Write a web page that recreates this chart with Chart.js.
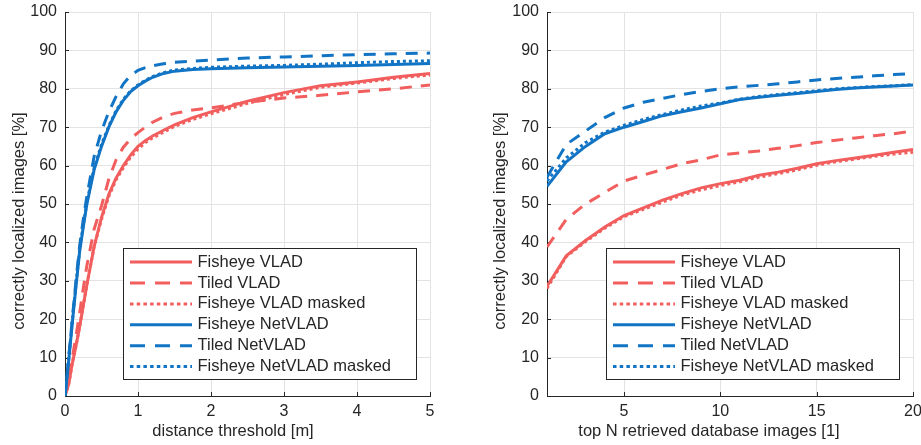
<!DOCTYPE html>
<html>
<head>
<meta charset="utf-8">
<script src="https://cdn.jsdelivr.net/npm/chart.js@4.4.1/dist/chart.umd.min.js"></script>
<style>
  html, body { margin: 0; padding: 0; background: #fff; }
  #wrap { position: relative; width: 921px; height: 445px; }
  canvas { position: absolute; top: 0; }
  #left { left: 0; }
  #right { left: 460px; }
</style>
</head>
<body>
<div id="wrap">
  <canvas id="left" width="460" height="445"></canvas>
  <canvas id="right" width="461" height="445"></canvas>
</div>
<script>
// ---- data ----
const seriesNames = ['Fisheye VLAD', 'Tiled VLAD', 'Fisheye VLAD masked',
                     'Fisheye NetVLAD', 'Tiled NetVLAD', 'Fisheye NetVLAD masked'];

// left plot: distance threshold [m]
const distX = [0, 0.05, 0.1, 0.15, 0.2, 0.25, 0.3, 0.4, 0.5, 0.6, 0.7, 0.8, 0.9, 1.0,
               1.1, 1.2, 1.35, 1.5, 1.75, 2.0, 2.5, 3.0, 3.5, 4.0, 4.5, 5.0];
const distFisheyeVlad = [0, 3, 8.5, 13, 18, 23.5, 29, 39, 46.5, 52.5, 56.8, 60, 62.8, 65,
                         66.5, 67.7, 69.2, 70.6, 72.5, 74, 76.8, 79, 80.8, 81.8, 83, 84];
const distTiledVlad = [0, 4, 10, 15.5, 21.5, 28, 34, 43.5, 49.5, 56.5, 61.5, 64.8, 67, 68.6,
                       70, 71.3, 72.7, 73.6, 74.5, 75, 76.5, 77.6, 78.3, 79.2, 80, 81];
const distFisheyeVladMasked = [0, 3, 8.5, 13, 18, 23.5, 29, 39, 46, 52, 56.3, 59.5, 62.2, 64.3,
                               66, 67.2, 68.7, 70.2, 72, 73.5, 76.2, 78.5, 80.4, 81.5, 82.7, 83.6];
const distFisheyeNetVlad = [0, 9, 19, 28.5, 37.5, 44, 50, 59, 65, 70, 74, 77, 79.3, 80.8,
                            82, 83, 84, 84.6, 85, 85.2, 85.5, 85.7, 85.9, 86.1, 86.3, 86.6];
const distTiledNetVlad = [0, 10, 20, 30, 39, 46, 52, 62.5, 69, 74, 78, 81.3, 83.5, 84.8,
                          85.5, 86, 86.5, 86.9, 87.2, 87.5, 88, 88.3, 88.6, 88.9, 89.1, 89.3];
const distFisheyeNetVladMasked = [0, 9.5, 19.5, 29, 38, 44.5, 50.5, 59.5, 65.5, 70.3, 74.3, 77.3, 79.5, 81,
                                  82.2, 83.2, 84.2, 84.9, 85.3, 85.6, 85.9, 86.1, 86.4, 86.8, 87.1, 87.3];
const distTicks = [0, 1, 2, 3, 4, 5];

// right plot: top N retrieved database images
const topN = [1, 2, 3, 4, 5, 6, 7, 8, 9, 10, 11, 12, 13, 14, 15, 16, 17, 18, 19, 20];
const topFisheyeVlad = [28.6, 36.5, 40.5, 44, 47, 49, 51, 52.7, 54.2, 55.3,
                        56.2, 57.5, 58.3, 59.3, 60.5, 61.3, 62, 62.7, 63.5, 64.2];
const topTiledVlad = [38.8, 46, 50, 53, 56, 57.5, 59, 60.5, 61.5, 62.8,
                      63.3, 63.8, 64.5, 65.2, 66, 66.6, 67.2, 67.8, 68.3, 69];
const topFisheyeVladMasked = [28, 36.3, 40.2, 43.7, 46.7, 48.6, 50.5, 52.3, 53.7, 54.8,
                              55.8, 57, 57.9, 58.9, 60.1, 61, 61.7, 62.4, 63, 63.5];
const topFisheyeNetVlad = [54.6, 61, 65, 68.3, 70, 71.5, 73, 74, 75, 76.1,
                           77.2, 77.8, 78.3, 78.8, 79.3, 79.8, 80.2, 80.5, 80.7, 81];
const topTiledNetVlad = [57, 65.5, 69, 72.5, 75, 76.5, 77.5, 78.5, 79.3, 80,
                         80.5, 80.9, 81.3, 81.8, 82.3, 82.7, 83, 83.4, 83.7, 84];
const topFisheyeNetVladMasked = [56, 62, 66, 68.7, 70.5, 72, 73.3, 74.5, 75.5, 76.3,
                                 77.3, 78, 78.5, 79, 79.5, 80, 80.3, 80.6, 80.8, 81.1];
const topTicks = [5, 10, 15, 20];

const yTicks = [0, 10, 20, 30, 40, 50, 60, 70, 80, 90, 100];

// ---- styling ----
const red = 'rgb(242,94,94)';
const blue = 'rgb(18,116,196)';
const textColor = '#262626';
const gridColor = '#e3e3e3';
const fontFamily = '"Liberation Sans", Arial, Helvetica, sans-serif';
const colors = [red, red, red, blue, blue, blue];
const styles = ['solid', 'dashed', 'dotted', 'solid', 'dashed', 'dotted'];
const dashes = { solid: [], dashed: [12, 9], dotted: [3, 3] };
const legendDashes = { solid: [], dashed: [15, 10], dotted: [3.5, 3.2] };

Chart.defaults.font.family = fontFamily;
Chart.defaults.font.size = 16;
Chart.defaults.color = textColor;

function makeDatasets(xs, series) {
  return series.map((ys, i) => ({
    label: seriesNames[i],
    data: xs.map((x, j) => ({ x: x, y: ys[j] })),
    borderColor: colors[i],
    borderWidth: 3,
    borderDash: dashes[styles[i]],
    borderCapStyle: 'butt',
    lineStyle: styles[i],
    pointRadius: 0,
    fill: false,
    tension: 0,
    order: series.length - i   // later series on top, like the original
  }));
}

// inward ticks, axis titles and the boxed legend
const decor = {
  id: 'decor',
  beforeDatasetsDraw(chart) {
    const { ctx, chartArea: a, scales: { x, y } } = chart;
    ctx.save();
    ctx.strokeStyle = textColor;
    ctx.lineWidth = 1;
    ctx.beginPath();
    x.ticks.forEach(t => {
      const p = Math.round(x.getPixelForValue(t.value)) + 0.5;
      ctx.moveTo(p, a.bottom); ctx.lineTo(p, a.bottom - 4);
    });
    y.ticks.forEach(t => {
      const p = Math.round(y.getPixelForValue(t.value)) + 0.5;
      ctx.moveTo(a.left, p); ctx.lineTo(a.left + 4, p);
    });
    ctx.stroke();
    ctx.restore();
  },
  afterDraw(chart, args, opts) {
    const { ctx, chartArea: a } = chart;
    ctx.save();
    ctx.fillStyle = textColor;
    ctx.font = '16.5px ' + fontFamily;
    ctx.textAlign = 'center';
    ctx.textBaseline = 'middle';
    ctx.fillText(opts.xTitle, opts.xTitlePos[0], opts.xTitlePos[1]);
    ctx.translate(opts.yTitlePos[0], opts.yTitlePos[1]);
    ctx.rotate(-Math.PI / 2);
    ctx.fillText(opts.yTitle, 0, 0);
    ctx.restore();

    // legend box
    const w = 293, h = 131;
    const left = Math.round(a.right - 14 - w) + 0.5;
    const top = Math.round(a.bottom - 17 - h) + 0.5;
    ctx.save();
    ctx.fillStyle = '#fff';
    ctx.fillRect(left, top, w, h);
    ctx.strokeStyle = textColor;
    ctx.lineWidth = 1;
    ctx.strokeRect(left, top, w, h);
    ctx.font = '16.5px ' + fontFamily;
    ctx.textAlign = 'left';
    ctx.textBaseline = 'middle';
    chart.data.datasets.forEach((ds, i) => {
      const cy = top + 13.6 + i * 20.9;
      ctx.setLineDash(legendDashes[ds.lineStyle]);
      ctx.strokeStyle = ds.borderColor;
      ctx.lineWidth = 3;
      ctx.beginPath();
      ctx.moveTo(left + 6.5, cy);
      ctx.lineTo(left + 68.5, cy);
      ctx.stroke();
      ctx.setLineDash([]);
      ctx.fillStyle = textColor;
      ctx.fillText(ds.label, left + 74, cy);
    });
    ctx.restore();
  }
};

function makeChart(id, xs, series, xMin, xMax, xTickList, padLeft, padRight, titles) {
  return new Chart(document.getElementById(id), {
    type: 'line',
    data: { datasets: makeDatasets(xs, series) },
    options: {
      responsive: false,
      animation: false,
      devicePixelRatio: 1,
      layout: { padding: { top: 12, left: padLeft, right: padRight, bottom: 0 } },
      plugins: {
        legend: { display: false },
        tooltip: { enabled: false },
        decor: titles
      },
      scales: {
        x: {
          type: 'linear',
          min: xMin,
          max: xMax,
          afterBuildTicks: s => { s.ticks = xTickList.map(v => ({ value: v })); },
          afterFit: s => { s.height = 49; s.paddingLeft = 0; s.paddingRight = 0; },
          ticks: { padding: 6, maxRotation: 0, autoSkip: false, callback: v => String(v) },
          grid: { color: gridColor, drawTicks: false },
          border: { display: true, color: textColor, width: 1 }
        },
        y: {
          min: 0,
          max: 100,
          afterBuildTicks: s => { s.ticks = yTicks.map(v => ({ value: v })); },
          afterFit: s => { s.width = 65; s.paddingTop = 0; s.paddingBottom = 0; },
          ticks: { padding: 8, autoSkip: false, callback: v => String(v) },
          grid: { color: gridColor, drawTicks: false },
          border: { display: true, color: textColor, width: 1 }
        }
      }
    },
    plugins: [decor]
  });
}

makeChart('left', distX,
  [distFisheyeVlad, distTiledVlad, distFisheyeVladMasked,
   distFisheyeNetVlad, distTiledNetVlad, distFisheyeNetVladMasked],
  0, 5, distTicks, 0, 30,
  { xTitle: 'distance threshold [m]', yTitle: 'correctly localized images [%]',
    xTitlePos: [233, 431], yTitlePos: [19, 221] });

makeChart('right', topN,
  [topFisheyeVlad, topTiledVlad, topFisheyeVladMasked,
   topFisheyeNetVlad, topTiledNetVlad, topFisheyeNetVladMasked],
  1, 20, topTicks, 22, 8,
  { xTitle: 'top N retrieved database images [1]', yTitle: 'correctly localized images [%]',
    xTitlePos: [249, 431], yTitlePos: [40, 221] });
</script>
</body>
</html>
